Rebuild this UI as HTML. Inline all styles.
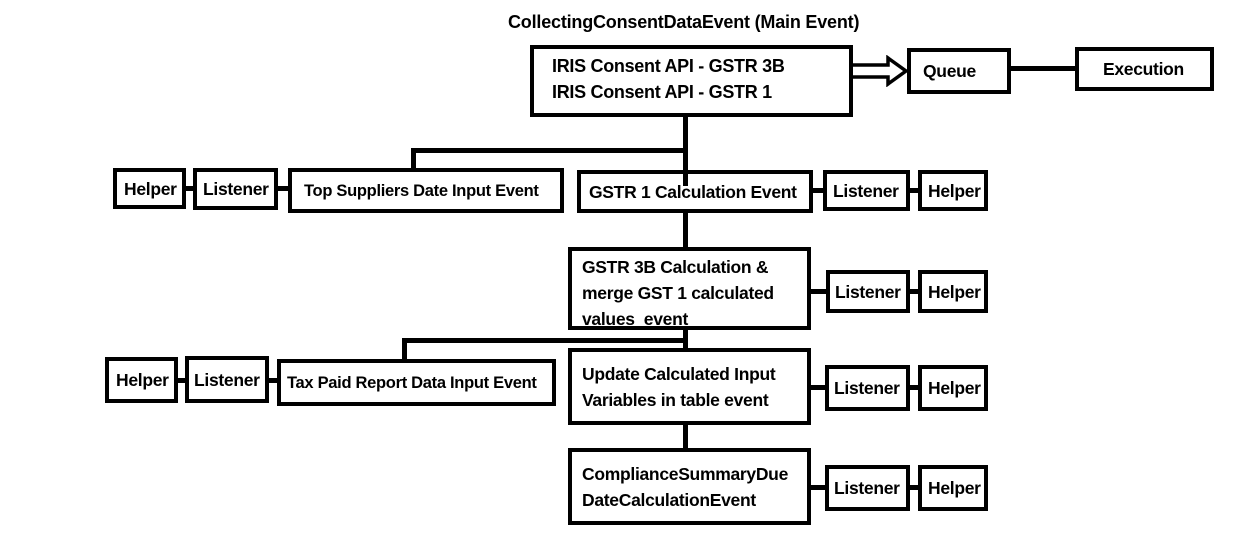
<!DOCTYPE html>
<html><head><meta charset="utf-8"><style>
body{margin:0;width:1243px;height:541px;background:#fff;position:relative;overflow:hidden;font-family:"Liberation Sans",Arial,sans-serif;font-weight:bold;color:#000}
.b{position:absolute;box-sizing:border-box;border:4px solid #000;font-size:17.5px;line-height:26px;padding-left:8px;white-space:nowrap;overflow:visible;letter-spacing:-0.3px}
.l{position:absolute;background:#000}
.c{display:flex;align-items:center}
</style></head><body>
<div style="position:absolute;left:508px;top:12px;font-size:18px;letter-spacing:-0.2px;white-space:nowrap">CollectingConsentDataEvent (Main Event)</div>

<div class="b" style="left:530px;top:45px;width:323px;height:72px;padding:4px 0 0 18px;font-size:18px">IRIS Consent API - GSTR 3B<br>IRIS Consent API - GSTR 1</div>
<svg style="position:absolute;left:852px;top:55px" width="58" height="32"><path d="M0 10 H36 L36 3 L54 16 L36 29 L36 22 H0" fill="none" stroke="#000" stroke-width="3.5"/></svg>
<div class="b c" style="left:907px;top:48px;width:104px;height:46px;padding-left:12px">Queue</div>
<div class="l" style="left:1010px;top:66px;width:66px;height:5px"></div>
<div class="b c" style="left:1075px;top:47px;width:139px;height:44px;padding-left:24px">Execution</div>

<div class="l" style="left:683px;top:116px;width:5px;height:70px"></div>
<div class="l" style="left:411px;top:148px;width:277px;height:5px"></div>
<div class="l" style="left:411px;top:148px;width:5px;height:22px"></div>

<div class="b c" style="left:113px;top:168px;width:73px;height:41px;padding-left:7px">Helper</div>
<div class="l" style="left:185px;top:186px;width:9px;height:5px"></div>
<div class="b c" style="left:193px;top:168px;width:85px;height:42px;padding-left:6px">Listener</div>
<div class="l" style="left:277px;top:186px;width:12px;height:5px"></div>
<div class="b c" style="left:288px;top:168px;width:276px;height:45px;padding-left:12px;font-size:16.5px">Top Suppliers Date Input Event</div>

<div class="b c" style="left:577px;top:170px;width:236px;height:43px">GSTR 1 Calculation Event</div>
<div class="l" style="left:812px;top:188px;width:12px;height:5px"></div>
<div class="b c" style="left:823px;top:170px;width:87px;height:41px;padding-left:6px">Listener</div>
<div class="l" style="left:909px;top:188px;width:10px;height:5px"></div>
<div class="b c" style="left:918px;top:170px;width:70px;height:41px;padding-left:6px">Helper</div>

<div class="l" style="left:683px;top:212px;width:5px;height:37px"></div>

<div class="b" style="left:568px;top:247px;width:243px;height:83px;padding:3px 0 0 10px">GSTR 3B Calculation &amp;<br>merge GST 1 calculated<br>values&nbsp; event</div>
<div class="l" style="left:810px;top:289px;width:17px;height:5px"></div>
<div class="b c" style="left:826px;top:270px;width:84px;height:43px;padding-left:5px">Listener</div>
<div class="l" style="left:909px;top:289px;width:10px;height:5px"></div>
<div class="b c" style="left:918px;top:270px;width:70px;height:43px;padding-left:6px">Helper</div>

<div class="l" style="left:683px;top:329px;width:5px;height:21px"></div>
<div class="l" style="left:402px;top:338px;width:286px;height:5px"></div>
<div class="l" style="left:402px;top:338px;width:5px;height:22px"></div>

<div class="b c" style="left:105px;top:357px;width:73px;height:46px;padding-left:7px">Helper</div>
<div class="l" style="left:177px;top:378px;width:9px;height:5px"></div>
<div class="b c" style="left:185px;top:356px;width:84px;height:47px;padding-left:5px">Listener</div>
<div class="l" style="left:268px;top:378px;width:10px;height:5px"></div>
<div class="b c" style="left:277px;top:359px;width:279px;height:47px;padding-left:6px;font-size:16.5px">Tax Paid Report Data Input Event</div>

<div class="b" style="left:568px;top:348px;width:243px;height:77px;padding:9px 0 0 10px">Update Calculated Input<br>Variables in table event</div>
<div class="l" style="left:810px;top:385px;width:17px;height:5px"></div>
<div class="b c" style="left:825px;top:365px;width:85px;height:46px;padding-left:5px">Listener</div>
<div class="l" style="left:909px;top:385px;width:10px;height:5px"></div>
<div class="b c" style="left:918px;top:365px;width:70px;height:46px;padding-left:6px">Helper</div>

<div class="l" style="left:683px;top:424px;width:5px;height:26px"></div>

<div class="b" style="left:568px;top:448px;width:243px;height:77px;padding:9px 0 0 10px;font-size:17.5px">ComplianceSummaryDue<br>DateCalculationEvent</div>
<div class="l" style="left:810px;top:485px;width:17px;height:5px"></div>
<div class="b c" style="left:825px;top:465px;width:85px;height:46px;padding-left:5px">Listener</div>
<div class="l" style="left:909px;top:485px;width:10px;height:5px"></div>
<div class="b c" style="left:918px;top:465px;width:70px;height:46px;padding-left:6px">Helper</div>
</body></html>
